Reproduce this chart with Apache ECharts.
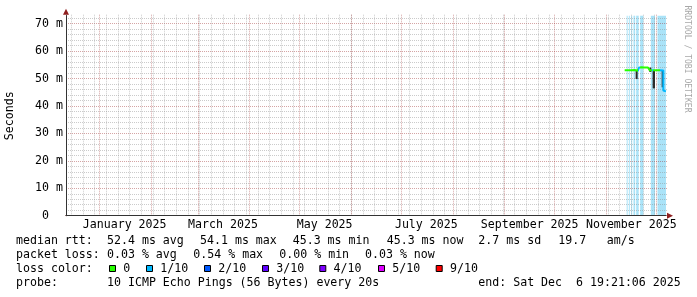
<!DOCTYPE html>
<html><head><meta charset="utf-8">
<script src="https://cdn.jsdelivr.net/npm/echarts@6/dist/echarts.min.js"></script>
<style>html,body{margin:0;padding:0;background:#fff}#c{width:697px;height:297px}</style>
</head><body><div id="c"></div>
<script>
// ---------- data ----------
const startTime = '2024-12-11 19:21:06';
const endTime = '2025-12-06 19:21:06';
const yMax = 72.9;

const xLabels = ['January 2025','March 2025','May 2025','July 2025','September 2025','November 2025'];
const xLabelDates = ['2025-01-16 00:00','2025-03-16 00:00','2025-05-16 00:00','2025-07-16 00:00','2025-09-16 00:00','2025-11-16 00:00'];
const yLabelValues = [0,10,20,30,40,50,60,70];

const medianTimes = ['2025-11-12 00:00','2025-11-13 00:00','2025-11-14 00:00','2025-11-15 00:00','2025-11-16 00:00','2025-11-17 00:00','2025-11-18 00:00','2025-11-19 00:00','2025-11-20 00:00','2025-11-20 12:00','2025-11-21 00:00','2025-11-22 00:00','2025-11-23 00:00','2025-11-24 00:00','2025-11-25 00:00','2025-11-26 00:00','2025-11-27 00:00','2025-11-28 00:00','2025-11-29 00:00','2025-11-30 00:00','2025-12-01 00:00','2025-12-02 00:00','2025-12-03 00:00','2025-12-04 00:00','2025-12-05 05:00','2025-12-05 17:00','2025-12-06 05:00','2025-12-06 19:00'];
const medianValues = [53.0,53.0,52.9,53.0,53.0,53.1,53.0,52.8,53.4,53.9,54.1,54.0,54.0,54.0,54.0,53.9,53.0,53.0,52.9,53.0,53.0,53.0,53.0,52.9,45.6,45.4,45.3,45.3];

// loss level of the median line: change points and colour of each stretch
const lossBreaks = ['2025-11-19 19:00','2025-11-21 05:00','2025-11-28 05:00','2025-11-29 00:00','2025-12-03 00:00'];
const lossStretchColors = ['#26ff00','#00b8ff','#26ff00','#00b8ff','#26ff00','#00b8ff'];

// smoke (rtt spread)
const smokeStart = ['2025-11-18 14:00','2025-11-26 19:00','2025-11-28 19:00','2025-12-04 05:00'];
const smokeEnd   = ['2025-11-19 19:00','2025-11-28 00:00','2025-11-30 05:00','2025-12-05 05:00'];
const smokeLow   = [49.8,52.4,46.4,46.8];
const smokeHigh  = [53.0,54.0,53.0,53.0];

// loss background bars
const bgStart = ['2025-11-13 05:00','2025-11-14 12:00','2025-11-15 22:00','2025-11-17 07:00','2025-11-18 22:00','2025-11-21 07:00','2025-11-27 17:00','2025-12-01 17:00'];
const bgEnd   = ['2025-11-13 19:00','2025-11-15 02:00','2025-11-16 12:00','2025-11-18 07:00','2025-11-20 10:00','2025-11-23 05:00','2025-11-30 05:00','2025-12-06 19:21'];

// legend texts
const rttStats = [['median rtt:',16],['52.4 ms avg',107],['54.1 ms max',200],['45.3 ms min',292.7],['45.3 ms now',386.7],['2.7 ms sd',478.3],['19.7',558.3],['am/s',606.7]];
const lossStats = [['packet loss:',16],['0.03 % avg',107],['0.54 % max',193.3],['0.00 % min',279.3],['0.03 % now',365]];
const lossLegendLabels = ['0','1/10','2/10','3/10','4/10','5/10','9/10'];
const lossLegendColors = ['#26ff00','#00b8ff','#0059ff','#5e00ff','#7e00ff','#dd00ff','#ff0000'];
const lossLegendX = [109,146,204,262,319.3,378,435.7];
const probeTexts = [['probe:',16],['10 ICMP Echo Pings (56 Bytes) every 20s',107],['end: Sat Dec  6 19:21:06 2025',478.3]];

// ---------- helpers ----------
function ts(s){
  const [d,t] = s.split(' ');
  const [Y,M,D] = d.split('-').map(Number);
  const [h,m,sec] = (t||'00:00').split(':').map(Number);
  return Date.UTC(Y,M-1,D,h,m,sec||0);
}
const T0 = ts(startTime), T1 = ts(endTime);
const DAY = 86400000;
// weekly (Sunday) and monthly grid lines
const weekLines = [], monthLines = [];
for (let t = Date.UTC(2024,11,15); t <= T1; t += 7*DAY) weekLines.push(t);
for (let y = 2024, m = 11; ; ) { const t = Date.UTC(y,m,1); if (t > T1) break; if (t >= T0) monthLines.push(t); m++; if (m>11){m=0;y++;} }
const labelTs = xLabelDates.map(ts);

const FONT = '"DejaVu Sans Mono", monospace';
const FS = 11.6;
const minorColor = 'rgba(140,140,140,0.45)';
const majorColor = 'rgba(150,30,30,0.4)';
const axisColor = '#333';
const arrowColor = '#8f1f1f';

const xBase = {type:'value', min:T0, max:T1, gridIndex:0, position:'bottom',
  axisLabel:{show:false}, axisTick:{show:false}, axisLine:{show:false,onZero:false}, splitLine:{show:false}};
const yBase = {type:'value', min:0, max:yMax, gridIndex:0, position:'left',
  axisLabel:{show:false}, axisTick:{show:false}, axisLine:{show:false,onZero:false}, splitLine:{show:false}};

const minorY = [], majorY = [10,20,30,40,50,60,70];
for (let v = 2; v <= 72; v += 2) if (v % 10) minorY.push(v);

const lossPieces = lossStretchColors.map((c,i) => {
  const p = {color:c};
  if (i > 0) p.gte = ts(lossBreaks[i-1]);
  if (i < lossBreaks.length) p.lt = ts(lossBreaks[i]);
  return p;
});

// graphic legend
const graphics = [];
function txt(s,x,y){ graphics.push({type:'text', x:x, y:y, style:{text:s, font:FS+'px '+FONT, fill:'#000', verticalAlign:'middle', align:'left'}}); }
rttStats.forEach(([s,x]) => txt(s,x,241));
lossStats.forEach(([s,x]) => txt(s,x,255));
txt('loss color:',16,269);
lossLegendLabels.forEach((s,i) => {
  graphics.push({type:'rect', shape:{x:lossLegendX[i]+0.5, y:265.5, width:6, height:6}, style:{fill:lossLegendColors[i], stroke:'#000', lineWidth:1}});
  txt(s, lossLegendX[i]+14.3, 269);
});
probeTexts.forEach(([s,x]) => txt(s,x,283));
graphics.push({type:'text', x:687, y:59, rotation:-Math.PI/2, style:{text:'RRDTOOL / TOBI OETIKER', font:'8.1px '+FONT, fill:'#a8a8a8', align:'center', verticalAlign:'middle'}});

const chart = echarts.init(document.getElementById('c'), null, {renderer:'canvas'});
chart.setOption({
  animation:false,
  backgroundColor:'#fff',
  grid:{left:66, top:15.7, width:600, height:200, containLabel:false, outerBoundsMode:'none'},
  xAxis:[
    Object.assign({}, xBase, {z:6, axisLine:{show:true,onZero:false,lineStyle:{color:axisColor,width:1}}}),
    Object.assign({}, xBase, {z:1, axisTick:{show:true, inside:true, length:202, customValues:weekLines, lineStyle:{color:minorColor, type:[1,1]}}}),
    Object.assign({}, xBase, {z:1, axisTick:{show:true, inside:true, length:202, customValues:monthLines, lineStyle:{color:majorColor, type:[1,1]}}}),
    Object.assign({}, xBase, {z:5,
      axisLine:{show:true,onZero:false, symbol:['none','triangle'], symbolSize:[6,6], symbolOffset:[0,4], lineStyle:{color:arrowColor}},
      axisLabel:{show:true, customValues:labelTs, margin:3, fontFamily:FONT, fontSize:FS, color:'#000',
        formatter:function(v){ const i = labelTs.indexOf(v); return i>=0 ? xLabels[i] : ''; }}})
  ],
  yAxis:[
    Object.assign({}, yBase, {z:6, axisLine:{show:true,onZero:false,lineStyle:{color:axisColor}},
      name:'Seconds', nameLocation:'middle', nameGap:50, nameRotate:90, nameTextStyle:{fontFamily:FONT, fontSize:FS, color:'#000'},
      axisLabel:{show:true, customValues:yLabelValues, align:'left', margin:31, fontFamily:FONT, fontSize:FS, color:'#000',
        formatter:function(v){ return v === 0 ? ' 0' : v + ' m'; }}}),
    Object.assign({}, yBase, {z:1, axisTick:{show:true, inside:true, length:602, customValues:minorY, lineStyle:{color:minorColor, type:[1,1]}}}),
    Object.assign({}, yBase, {z:1, axisTick:{show:true, inside:true, length:602, customValues:majorY, lineStyle:{color:majorColor, type:[1,1]}}}),
    Object.assign({}, yBase, {z:5, axisLine:{show:true,onZero:false, symbol:['none','triangle'], symbolSize:[6,6], symbolOffset:[0,4], lineStyle:{color:arrowColor}}})
  ],
  visualMap:{show:false, type:'piecewise', seriesIndex:2, dimension:0, pieces:lossPieces},
  series:[
    {type:'custom', name:'lossbg', xAxisIndex:0, yAxisIndex:0, z:0, silent:true,
      data: bgStart.map((s,i)=>[ts(s), ts(bgEnd[i])]),
      encode:{x:[0,1]},
      renderItem:function(params, api){
        const a = api.coord([api.value(0), yMax]);
        const b = api.coord([api.value(1), 0]);
        return {type:'rect', shape:{x:a[0], y:a[1], width:Math.max(1,b[0]-a[0]), height:b[1]-a[1]}, style:{fill:'#aae3f8'}};
      }},
    {type:'custom', name:'smoke', xAxisIndex:0, yAxisIndex:0, z:3, silent:true,
      data: smokeStart.map((s,i)=>[ts(s), ts(smokeEnd[i]), smokeLow[i], smokeHigh[i]]),
      encode:{x:[0,1], y:[2,3]},
      renderItem:function(params, api){
        const a = api.coord([api.value(0), api.value(3)]);
        const b = api.coord([api.value(1), api.value(2)]);
        return {type:'rect', shape:{x:a[0], y:a[1], width:Math.max(1,b[0]-a[0]), height:b[1]-a[1]}, style:{fill:'#2a2a2a'}};
      }},
    {type:'line', name:'median rtt', xAxisIndex:0, yAxisIndex:0, z:4, step:'end', showSymbol:false, silent:true,
      data: medianTimes.map((t,i)=>[ts(t), medianValues[i]]),
      lineStyle:{width:2}}
  ],
  graphic: graphics
});
</script></body></html>
